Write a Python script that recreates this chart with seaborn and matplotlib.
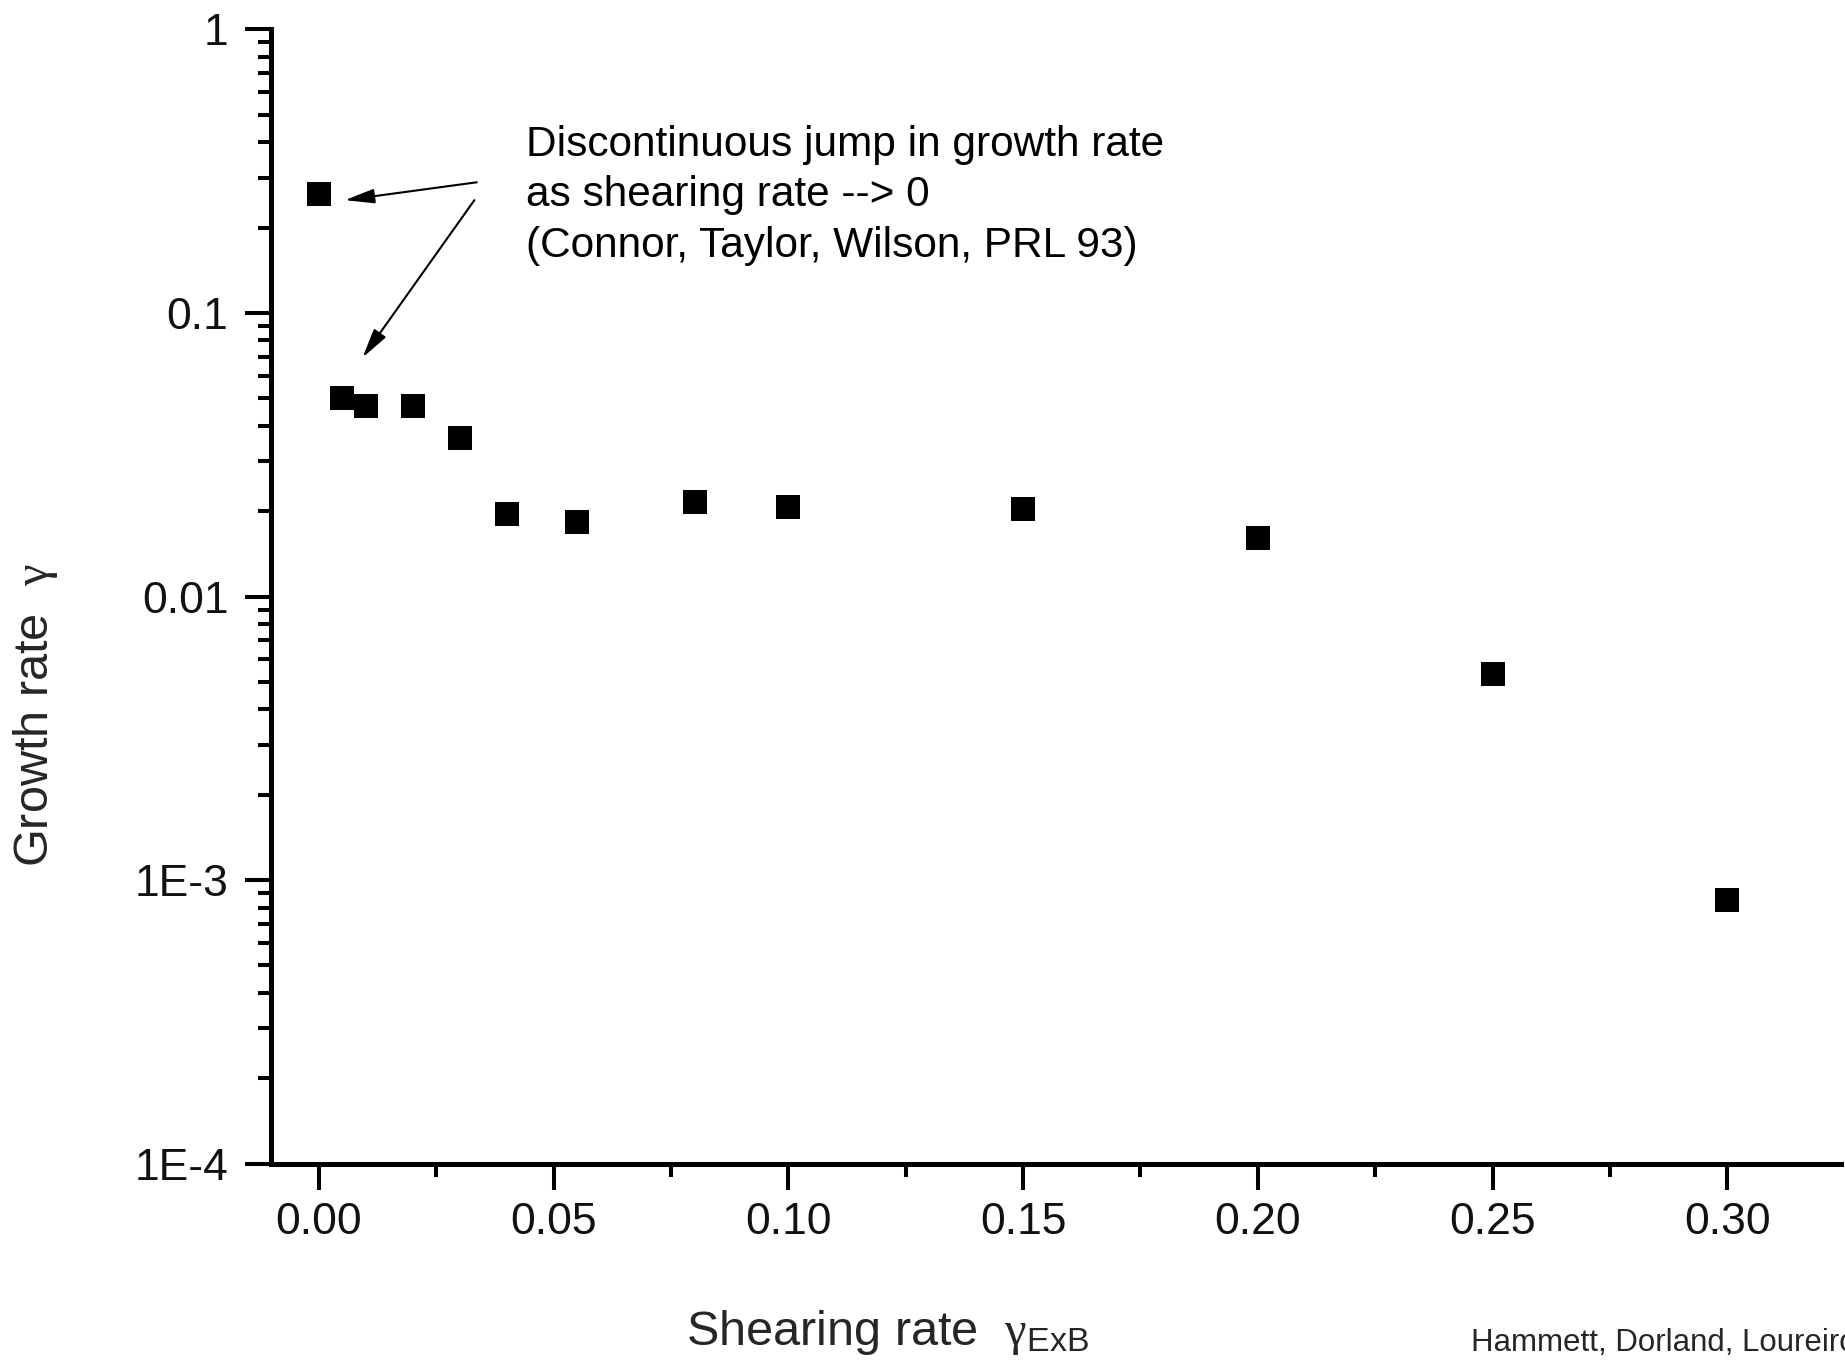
import matplotlib
matplotlib.use("Agg")
import matplotlib.pyplot as plt
import matplotlib.ticker as mticker
import seaborn as sns
import pandas as pd
import numpy as np

# ---- data ----
shear_rate = [0.0, 0.005, 0.01, 0.02, 0.03, 0.04, 0.055, 0.08, 0.10, 0.15, 0.20, 0.25, 0.30]
growth_rate = [0.262, 0.0503, 0.047, 0.047, 0.0363, 0.0195, 0.0183, 0.0215, 0.0207, 0.0203, 0.0161, 0.00532, 0.00085]

x_ticks = [0.00, 0.05, 0.10, 0.15, 0.20, 0.25, 0.30]
x_tick_labels = ["0.00", "0.05", "0.10", "0.15", "0.20", "0.25", "0.30"]
y_ticks = [1, 0.1, 0.01, 1e-3, 1e-4]
y_tick_labels = ["1", "0.1", "0.01", "1E-3", "1E-4"]

annotation_text = ("Discontinuous jump in growth rate\n"
                   "as shearing rate --> 0\n"
                   "(Connor, Taylor, Wilson, PRL 93)")
footer_text = "Hammett, Dorland, Loureiro"

df = pd.DataFrame({"shear": shear_rate, "growth": growth_rate})

sns.set_theme(style="white")
plt.rcParams["font.family"] = ["Liberation Sans", "DejaVu Sans"]
plt.rcParams["mathtext.fontset"] = "custom"
plt.rcParams["mathtext.rm"] = "Liberation Sans"
plt.rcParams["mathtext.it"] = "Liberation Serif"
plt.rcParams["mathtext.bf"] = "Liberation Sans:bold"

fig = plt.figure(figsize=(18.45, 13.62), dpi=100)
ax = fig.add_axes([0.1467, 0.1456, 0.998 - 0.1467, 0.9784 - 0.1456])

sns.scatterplot(data=df, x="shear", y="growth", marker="s", s=289,
                color="black", linewidth=0, ax=ax, legend=False, zorder=3)

ax.set_yscale("log")
ax.set_ylim(1e-4, 1)
ax.set_xlim(-0.0103, 0.3243)

ax.set_xticks(x_ticks)
ax.set_xticklabels(x_tick_labels)
ax.xaxis.set_minor_locator(mticker.MultipleLocator(0.025))
ax.set_yticks(y_ticks)
ax.set_yticklabels(y_tick_labels)
ax.yaxis.set_minor_locator(mticker.LogLocator(base=10, subs=np.arange(2, 10)))
ax.yaxis.set_minor_formatter(mticker.NullFormatter())

for side in ["top", "right"]:
    ax.spines[side].set_visible(False)
for side in ["left", "bottom"]:
    ax.spines[side].set_linewidth(3.6)
    ax.spines[side].set_color("black")

ax.tick_params(axis="both", which="major", direction="out", length=18.5,
               width=2.9, color="black", labelsize=32, labelcolor="#111111")
ax.tick_params(axis="both", which="minor", direction="out", length=9.5,
               width=2.9, color="black")
ax.tick_params(axis="x", which="major", pad=9)
ax.tick_params(axis="y", which="major", pad=12)
ax.tick_params(axis="x", which="both", bottom=True)
ax.tick_params(axis="y", which="both", left=True)

ax.set_xlabel(r"Shearing rate  $\gamma_{\mathrm{ExB}}$", fontsize=35)
ax.set_ylabel(r"Growth rate  $\gamma$", fontsize=35)
ax.xaxis.set_label_coords(0.3925, -0.127)
ax.yaxis.set_label_coords(-0.134, 0.395)

ax.grid(False)

# annotation text and arrows
ax.text(0.0441, 0.460, annotation_text, fontsize=30.5, va="top", ha="left",
        linespacing=1.335, color="black")
arrow_kw = dict(arrowstyle="-|>,head_length=0.9,head_width=0.22", lw=1.5,
                color="black", shrinkA=0, shrinkB=0, mutation_scale=20)
ax.annotate("", xy=(0.0055, 0.250), xytext=(0.0336, 0.289),
            arrowprops=arrow_kw)
ax.annotate("", xy=(0.00927, 0.0696), xytext=(0.0331, 0.250),
            arrowprops=arrow_kw)

fig.text(1471 / 1845, 0.008, footer_text, fontsize=22.5, ha="left", va="baseline")

fig.savefig("out.png", dpi=100)
